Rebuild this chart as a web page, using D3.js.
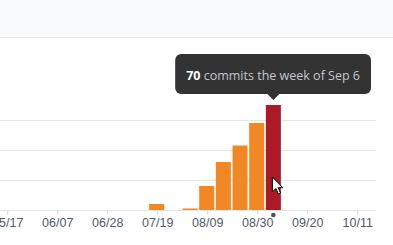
<!DOCTYPE html>
<html>
<head>
<meta charset="utf-8">
<script src="https://cdn.jsdelivr.net/npm/d3@7"></script>
<style>
  body { margin: 0; background: #fff; overflow: hidden; }
  svg { display: block; font-family: "Open Sans", "Noto Sans", sans-serif; }
</style>
</head>
<body>
<div id="chart"></div>
<script>
// Weekly commit counts (week starting dates)
const weeks = ["2021-07-19", "2021-07-26", "2021-08-02", "2021-08-09", "2021-08-16", "2021-08-23", "2021-08-30", "2021-09-06"];
const commits = [4, 0, 1, 16, 32, 43, 58, 70];
const tickDates = ["2021-05-17", "2021-06-07", "2021-06-28", "2021-07-19", "2021-08-09", "2021-08-30", "2021-09-20", "2021-10-11"];
const gridValues = [0, 20, 40, 60];
const activeWeek = "2021-09-06";

const W = 393, H = 245;
const plotRight = 376, baseY = 210;

const parse = d3.timeParse("%Y-%m-%d");
const fmt = d3.timeFormat("%m/%d");
const data = weeks.map((w, i) => ({ date: parse(w), key: w, value: commits[i] }));

const svg = d3.select("#chart").append("svg")
    .attr("width", W)
    .attr("height", H);

// header strip
svg.append("rect").attr("x", 0).attr("y", 0).attr("width", W).attr("height", 37).attr("fill", "#f9fafb");
svg.append("line").attr("x1", 0).attr("x2", W).attr("y1", 37.5).attr("y2", 37.5)
    .attr("stroke", "#e5e7ea").attr("stroke-width", 1);

// Scales
const x = d3.scaleTime()
    .domain([parse("2021-05-17"), parse("2021-10-11")])
    .range([6.7, 356.7]);

const y = d3.scaleLinear()
    .domain([0, 70])
    .range([baseY, 105]);

const pitch = x(d3.timeDay.offset(parse("2021-05-17"), 7)) - x(parse("2021-05-17"));
const bw = pitch * 0.9;

// gridlines
svg.append("g").selectAll("line")
    .data(gridValues)
    .enter().append("line")
    .attr("x1", 0).attr("x2", plotRight)
    .attr("y1", d => Math.round(y(d)) + 0.5)
    .attr("y2", d => Math.round(y(d)) + 0.5)
    .attr("stroke", "#e6e6e6")
    .attr("stroke-width", 1);

// x axis
const xAxis = svg.append("g")
    .attr("transform", `translate(0.5,${baseY + 0.5})`)
    .call(d3.axisBottom(x)
        .tickValues(tickDates.map(parse))
        .tickFormat(fmt)
        .tickSize(4)
        .tickPadding(4));
xAxis.select(".domain").remove();
xAxis.selectAll(".tick line").attr("stroke", "#d8d8d8");
xAxis.selectAll(".tick text")
    .attr("fill", "#4f5b6b")
    .style("font-size", "12.5px");

// bars
svg.append("g").selectAll("rect")
    .data(data.filter(d => d.value > 0))
    .enter().append("rect")
    .attr("x", d => x(d.date) - bw / 2)
    .attr("y", d => y(d.value))
    .attr("width", bw)
    .attr("height", d => baseY - y(d.value))
    .attr("fill", d => d.key === activeWeek ? "#ab1a25" : "#f18825");

// hovered week marker dot
const active = data.find(d => d.key === activeWeek);
svg.append("circle")
    .attr("cx", x(active.date))
    .attr("cy", baseY + 5)
    .attr("r", 2.3)
    .attr("fill", "#4b4f56");

// Tooltip
const tipG = svg.append("g");
const tipText = tipG.append("text")
    .attr("x", 0).attr("y", 0)
    .attr("text-anchor", "middle")
    .attr("dominant-baseline", "central")
    .style("font-size", "12.5px");
tipText.append("tspan").attr("font-weight", "bold").attr("fill", "#ffffff").text(active.value);
tipText.append("tspan").attr("fill", "#c2c6cc").text(" commits the week of " + d3.timeFormat("%b %-d")(active.date));

const tb = tipText.node().getBBox();
const padX = 11;
const boxW = tb.width + padX * 2, boxH = 40;
const tipX = x(active.date);
const boxCx = Math.min(tipX, W - 22 - boxW / 2);
const boxBottom = y(active.value) - 11;

tipG.insert("rect", "text")
    .attr("x", boxCx - boxW / 2)
    .attr("y", boxBottom - boxH)
    .attr("width", boxW)
    .attr("height", boxH)
    .attr("rx", 6)
    .attr("fill", "#333333");
tipG.insert("path", "text")
    .attr("d", `M${tipX - 6},${boxBottom} L${tipX},${boxBottom + 6} L${tipX + 6},${boxBottom} Z`)
    .attr("fill", "#333333");
tipText.attr("x", boxCx).attr("y", boxBottom - boxH / 2 + 1);

// mouse pointer over the hovered bar
const cx0 = tipX - 1, cy0 = 177;
svg.append("path")
    .attr("transform", `translate(${cx0},${cy0})`)
    .attr("d", "M0,0 L0,15 L3.5,11.5 L6,17 L8.2,16 L5.8,10.7 L10.5,10.7 Z")
    .attr("fill", "#fff")
    .attr("stroke", "#000")
    .attr("stroke-width", 1)
    .attr("stroke-linejoin", "round");
</script>
</body>
</html>
